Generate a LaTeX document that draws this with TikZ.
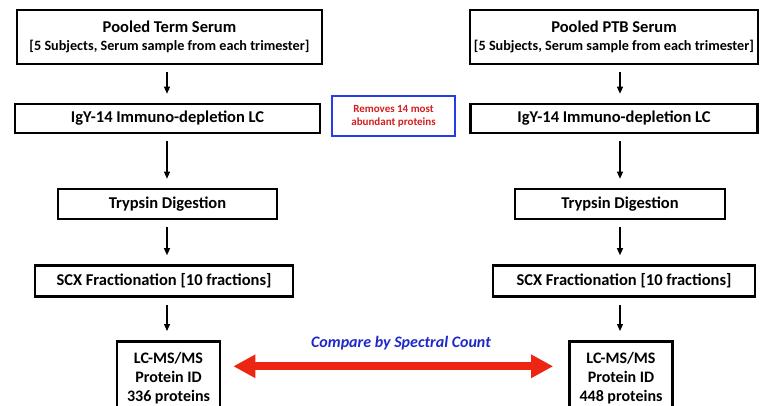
\documentclass[tikz,border=0pt]{standalone}
\usepackage{fontspec}
\setmainfont{Carlito}
\usetikzlibrary{arrows.meta,calc}
\definecolor{cred}{RGB}{236,38,18}
\definecolor{cblue}{RGB}{30,40,200}
\definecolor{bbox}{RGB}{40,60,230}
\definecolor{rtxt}{RGB}{210,30,30}
\tikzset{
  stepbox/.style={draw=black, line width=2.6pt, inner sep=0pt, align=center, font=\bfseries\fontsize{16.5}{19}\selectfont},
  lcms/.style={font=\bfseries\fontsize{16}{19}\selectfont, align=center, inner sep=0pt},
  flow/.style={-{Triangle[length=7pt,width=6pt]}, line width=1.2pt},
}
\begin{document}
\begin{tikzpicture}[x=1pt,y=-1pt]
\useasboundingbox (0,0) rectangle (763,406);
% left column
\node[stepbox, minimum width=305pt, minimum height=54pt] (L1) at (169.5,37) {Pooled Term Serum\\[-1pt]{\fontsize{14.2}{17}\selectfont [5 Subjects, Serum sample from each trimester]}};
\node[stepbox, minimum width=305pt, minimum height=29pt] (L2) at (167.5,118.5) {IgY-14 Immuno-depletion LC};
\node[stepbox, minimum width=219pt, minimum height=30pt] (L3) at (167.5,204) {Trypsin Digestion};
\node[stepbox, minimum width=258pt, minimum height=31pt] (L4) at (164,281) {SCX Fractionation [10 fractions]};
\node[stepbox, minimum width=103pt, minimum height=74pt, anchor=north] (L5) at (168.5,340) {};
\node[lcms] (L5t) at (168.5,378.5) {LC-MS/MS\\Protein ID\\336 proteins};
% right column
\node[stepbox, minimum width=288pt, minimum height=54pt] (R1) at (614,37) {Pooled PTB Serum\\[-1pt]{\fontsize{14.2}{17}\selectfont [5 Subjects, Serum sample from each trimester]}};
\node[stepbox, minimum width=287pt, minimum height=29pt] (R2) at (614,118.5) {IgY-14 Immuno-depletion LC};
\node[stepbox, minimum width=210pt, minimum height=30pt] (R3) at (620,204) {Trypsin Digestion};
\node[stepbox, minimum width=262pt, minimum height=31pt] (R4) at (624,281) {SCX Fractionation [10 fractions]};
\node[stepbox, minimum width=103pt, minimum height=74pt, anchor=north] (R5) at (621,340) {};
\node[lcms] (R5t) at (621,378.5) {LC-MS/MS\\Protein ID\\448 proteins};
% note box
\node[draw=bbox, line width=2.5pt, minimum width=123pt, minimum height=40pt, inner sep=0pt, align=center, text=rtxt, font=\bfseries\fontsize{11}{13}\selectfont] (N) at (393.5,116) {Removes 14 most\\abundant proteins};
% axes for arrows
\coordinate (aL) at (167,0);
\coordinate (aR) at (620,0);
\foreach \a/\b in {L1/L2,L2/L3,L3/L4,L4/L5}{
  \draw[flow] ($(\a.south -| aL)+(0,7)$) -- ($(\b.north -| aL)+(0,-9)$);
}
\foreach \a/\b in {R1/R2,R2/R3,R3/R4,R4/R5}{
  \draw[flow] ($(\a.south -| aR)+(0,7)$) -- ($(\b.north -| aR)+(0,-9)$);
}
% compare arrow
\draw[cred, line width=8pt, {Triangle[length=22pt,width=22pt]}-{Triangle[length=22pt,width=22pt]}]
  ($(L5.east)+(12,-12)$) -- ($(R5.west)+(-15,-12)$);
\node[text=cblue, font=\bfseries\itshape\fontsize{16}{18}\selectfont] (C) at (401,343) {Compare by Spectral Count};
\end{tikzpicture}
\end{document}
